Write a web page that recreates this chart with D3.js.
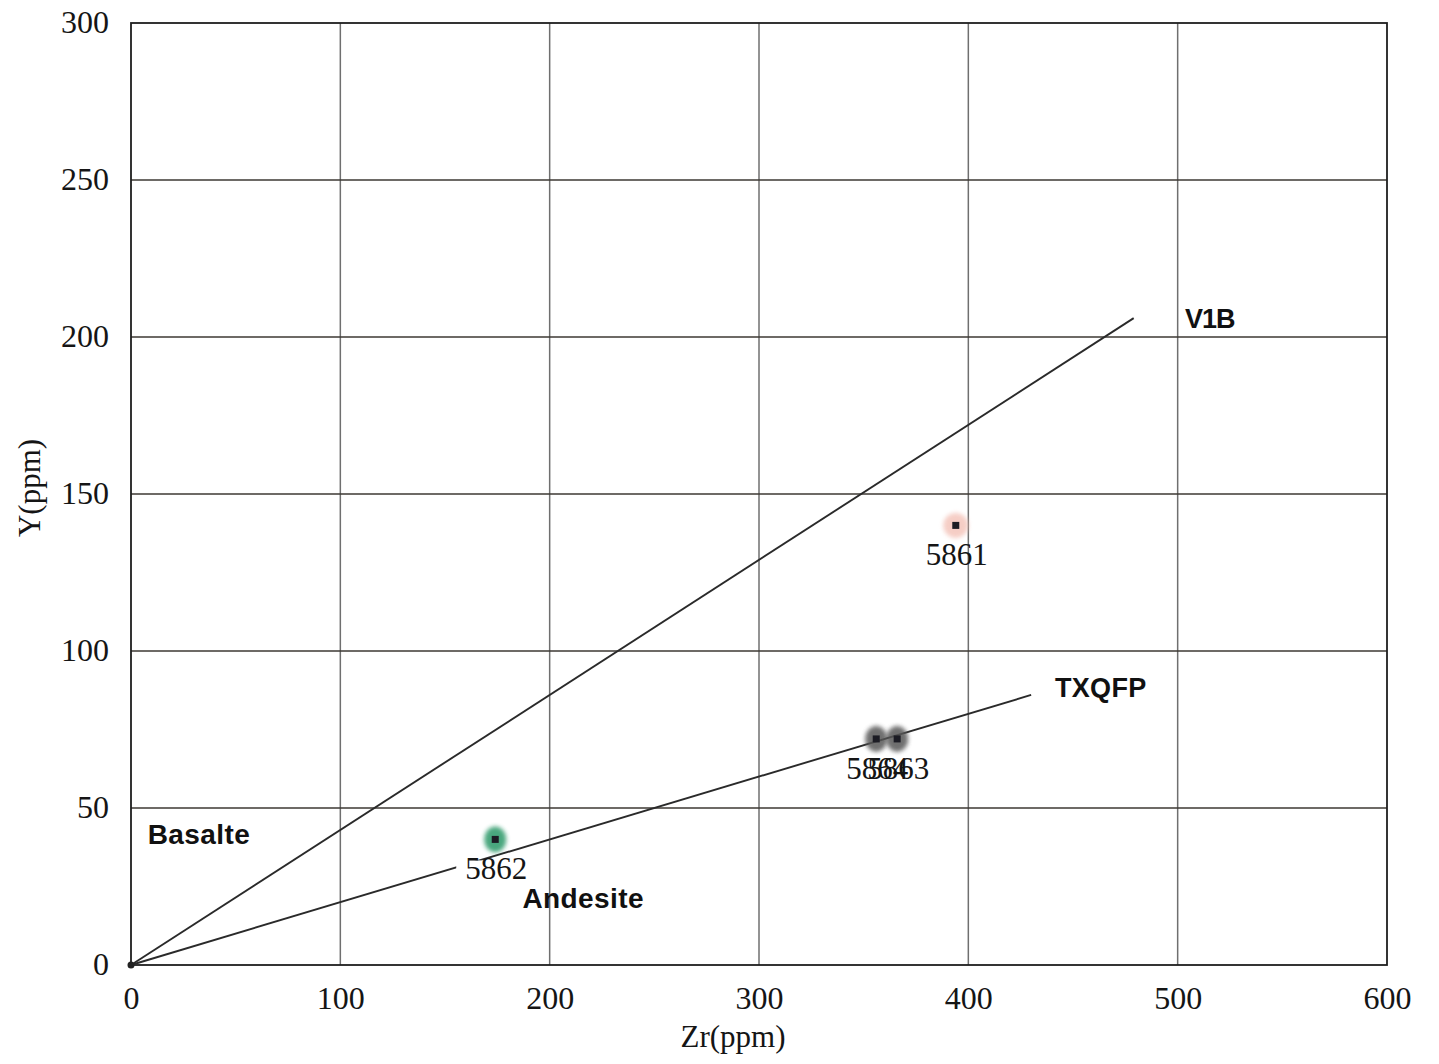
<!DOCTYPE html>
<html>
<head>
<meta charset="utf-8">
<script src="https://cdn.jsdelivr.net/npm/d3@7"></script>
<style>
  html, body { margin: 0; padding: 0; background: #fff; }
  svg { display: block; }
</style>
</head>
<body>
<svg id="chart" width="1439" height="1064"></svg>
<script>
// Zr vs Y discrimination plot
const xTicks = [0, 100, 200, 300, 400, 500, 600];
const yTicks = [0, 50, 100, 150, 200, 250, 300];

// Samples: Zr (ppm), Y (ppm)
const sampleIds = ["5861", "5862", "5864", "5863"];
const sampleZr  = [394, 174, 356, 366];
const sampleY   = [140, 40, 72, 72];
const sampleFill = ["#f2b9ad", "#2a9868", "#575757", "#575757"];

// Trend lines from origin: name, end Zr, end Y
const trendNames = ["V1B", "TXQFP"];
const trendEndZr = [479, 430];
const trendEndY  = [206, 86];

// Field labels: text, Zr, Y
const fieldNames = ["Basalte", "Andesite"];
const fieldZr    = [8, 187];
const fieldY     = [38.5, 18.3];

const svg = d3.select("#chart");
const x = d3.scaleLinear().domain([0, 600]).range([131, 1387]);
const y = d3.scaleLinear().domain([0, 300]).range([965, 23]);

const serif = "'Liberation Serif', 'Times New Roman', serif";
const sans = "'Liberation Sans', Arial, sans-serif";

const defs = svg.append("defs");
defs.append("filter").attr("id", "soft")
  .attr("x", "-60%").attr("y", "-60%").attr("width", "220%").attr("height", "220%")
  .append("feGaussianBlur").attr("stdDeviation", 2.2);

// grid
svg.append("g").selectAll("line").data(xTicks.slice(1, -1)).join("line")
  .attr("x1", d => x(d)).attr("x2", d => x(d))
  .attr("y1", y(300)).attr("y2", y(0))
  .attr("stroke", "#6f6f6f").attr("stroke-width", 1.5);
svg.append("g").selectAll("line").data(yTicks.slice(1, -1)).join("line")
  .attr("x1", x(0)).attr("x2", x(600))
  .attr("y1", d => y(d)).attr("y2", d => y(d))
  .attr("stroke", "#3d3833").attr("stroke-width", 1.4);

// frame
svg.append("rect")
  .attr("x", x(0)).attr("y", y(300))
  .attr("width", x(600) - x(0)).attr("height", y(0) - y(300))
  .attr("fill", "none").attr("stroke", "#1e1e1e").attr("stroke-width", 1.8);

// axes (labels only)
const xAxis = d3.axisBottom(x).tickValues(xTicks).tickSize(0).tickPadding(21).tickFormat(d3.format("d"));
const yAxis = d3.axisLeft(y).tickValues(yTicks).tickSize(0).tickPadding(22).tickFormat(d3.format("d"));
const gx = svg.append("g").attr("transform", `translate(0,${y(0)})`).call(xAxis);
const gy = svg.append("g").attr("transform", `translate(${x(0)},0)`).call(yAxis);
[gx, gy].forEach(g => {
  g.select(".domain").remove();
  g.selectAll("text").attr("font-family", serif).attr("font-size", 32).attr("fill", "#151515");
});
gy.selectAll("text").attr("dy", "0.3em");
gx.selectAll("text").attr("dy", "0.71em");

// axis titles
svg.append("text").attr("x", 733).attr("y", 1047)
  .attr("text-anchor", "middle").attr("font-family", serif).attr("font-size", 31)
  .attr("fill", "#151515").text("Zr(ppm)");
svg.append("text").attr("transform", "translate(40,488) rotate(-90)")
  .attr("text-anchor", "middle").attr("font-family", serif).attr("font-size", 31)
  .attr("fill", "#151515").text("Y(ppm)");

// trend lines
const trends = trendNames.map((n, i) => ({ name: n, zr: trendEndZr[i], y: trendEndY[i] }));
svg.append("g").selectAll("line").data(trends).join("line")
  .attr("x1", x(0)).attr("y1", y(0))
  .attr("x2", d => x(d.zr)).attr("y2", d => y(d.y))
  .attr("stroke", "#2a2a2a").attr("stroke-width", 1.9);
svg.append("circle").attr("cx", x(0)).attr("cy", y(0)).attr("r", 3.5).attr("fill", "#222");

// trend labels
const trendLabelPos = [[1185, 328], [1055, 697]];
svg.append("g").selectAll("text").data(trends).join("text")
  .attr("x", (d, i) => trendLabelPos[i][0]).attr("y", (d, i) => trendLabelPos[i][1])
  .attr("font-family", sans).attr("font-weight", "bold").attr("font-size", 27)
  .attr("fill", "#111").attr("letter-spacing", (d, i) => i === 0 ? -1 : 0.3)
  .text(d => d.name);

// field labels
svg.append("g").selectAll("text").data(fieldNames).join("text")
  .attr("x", (d, i) => x(fieldZr[i])).attr("y", (d, i) => y(fieldY[i]))
  .attr("font-family", sans).attr("font-weight", "bold").attr("font-size", 28)
  .attr("fill", "#111").attr("letter-spacing", 0.4).text(d => d);

// samples
const samples = sampleIds.map((id, i) => ({ id, zr: sampleZr[i], y: sampleY[i], fill: sampleFill[i] }));
const gS = svg.append("g");
gS.selectAll("ellipse").data(samples).join("ellipse")
  .attr("cx", d => x(d.zr)).attr("cy", d => y(d.y))
  .attr("rx", d => d.id === "5861" ? 12.5 : 11)
  .attr("ry", d => d.id === "5861" ? 12.5 : 13)
  .attr("fill", d => d.fill).attr("opacity", d => d.id === "5861" ? 0.7 : 0.85)
  .attr("filter", "url(#soft)");
gS.selectAll("rect").data(samples).join("rect")
  .attr("x", d => x(d.zr) - 3.5).attr("y", d => y(d.y) - 3.5)
  .attr("width", 7).attr("height", 7).attr("fill", "#1c1c24");

// sample labels (with white backing where it sits over a line)
const gL = svg.append("g");
samples.forEach(d => {
  const t = gL.append("text")
    .attr("x", x(d.zr) + 1).attr("y", y(d.y) + 40)
    .attr("text-anchor", "middle").attr("font-family", serif).attr("font-size", 31)
    .attr("fill", "#151515").text(d.id);
  if (d.id === "5862") {
    const b = t.node().getBBox();
    gL.insert("rect", "text")
      .attr("x", b.x - 9).attr("y", b.y + 9)
      .attr("width", b.width + 9).attr("height", b.height - 9)
      .attr("fill", "#fff");
  }
});
</script>
</body>
</html>
